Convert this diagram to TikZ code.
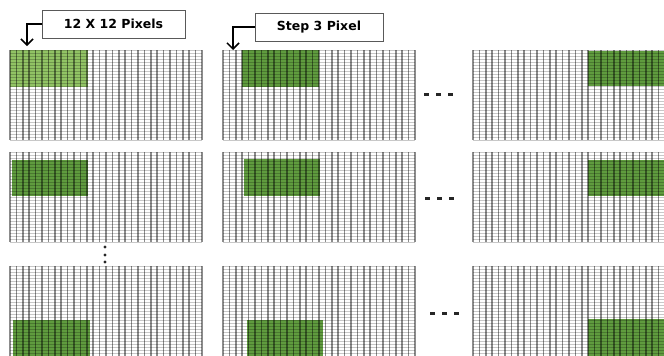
\documentclass[tikz,border=0pt]{standalone}
\usepackage{fontspec}
\newfontfamily\lblfont{DejaVu Sans}
\usetikzlibrary{arrows.meta}
\definecolor{vline}{RGB}{140,140,140}
\definecolor{hline}{RGB}{200,200,200}
\definecolor{greenA}{RGB}{145,195,100}
\definecolor{greenB}{RGB}{95,155,62}
\tikzset{
  labelbox/.style={draw=black!65,line width=0.9pt,fill=white,minimum width=143pt,minimum height=28pt,inner sep=0pt,font=\lblfont\bfseries\fontsize{12.5}{14}\selectfont},
  pointer/.style={line width=1.6pt,-{Straight Barb[length=6pt,width=12pt,line width=1.5pt]}},
  dotmark/.style={fill=black!85,draw=none},
}
\begin{document}
\begin{tikzpicture}[x=1pt,y=-1pt]
\useasboundingbox (0,0) rectangle (664,356);
\clip (0,0) rectangle (664,356);
\fill[white] (0,0) rectangle (664,356);
% green windows (drawn under the grid lines)
\fill[greenA] (10,50) rectangle (88,87);
\fill[greenB] (242,50) rectangle (319,87);
\fill[greenB] (588,51) rectangle (664,86);
\fill[greenB] (12,160) rectangle (88,196);
\fill[greenB] (244,159) rectangle (320,196);
\fill[greenB] (588,160) rectangle (664,196);
\fill[greenB] (13,320) rectangle (90,356);
\fill[greenB] (247,320) rectangle (323,356);
\fill[greenB] (588,319) rectangle (664,356);
% grids
\begin{scope}[blend mode=multiply]
\foreach \gx in {10,223,473}{
  \foreach \gy in {50,152,266}{
    \foreach \k in {0,...,30}{\draw[hline,line width=0.6pt] (\gx,\gy+3*\k) -- ++(192,0);}
    \foreach \k in {0,...,30}{\draw[vline,line width=1.6pt] (\gx+6.4*\k,\gy) -- ++(0,90);}
  }
}
\end{scope}
% labels
\node[labelbox] (lab1) at (113.5,24) {12 X 12 Pixels};
\node[labelbox,minimum width=128pt] (lab2) at (319,27) {Step 3 Pixel};
\coordinate (tip1) at (27,46);
\coordinate (tip2) at (233,50);
\draw[pointer] (lab1.west) -| (tip1);
\draw[pointer] (lab2.west) -| (tip2);
% horizontal ellipses
\foreach \y/\x in {94/424,198/425,313/430}{
  \foreach \i in {0,1,2}{\fill[dotmark] (\x+12*\i,\y-1.5) rectangle ++(4.5,3);}
}
% vertical ellipsis
\foreach \y in {247,255,262}{\fill[dotmark] (105,\y) circle (1.7);}
\end{tikzpicture}
\end{document}
